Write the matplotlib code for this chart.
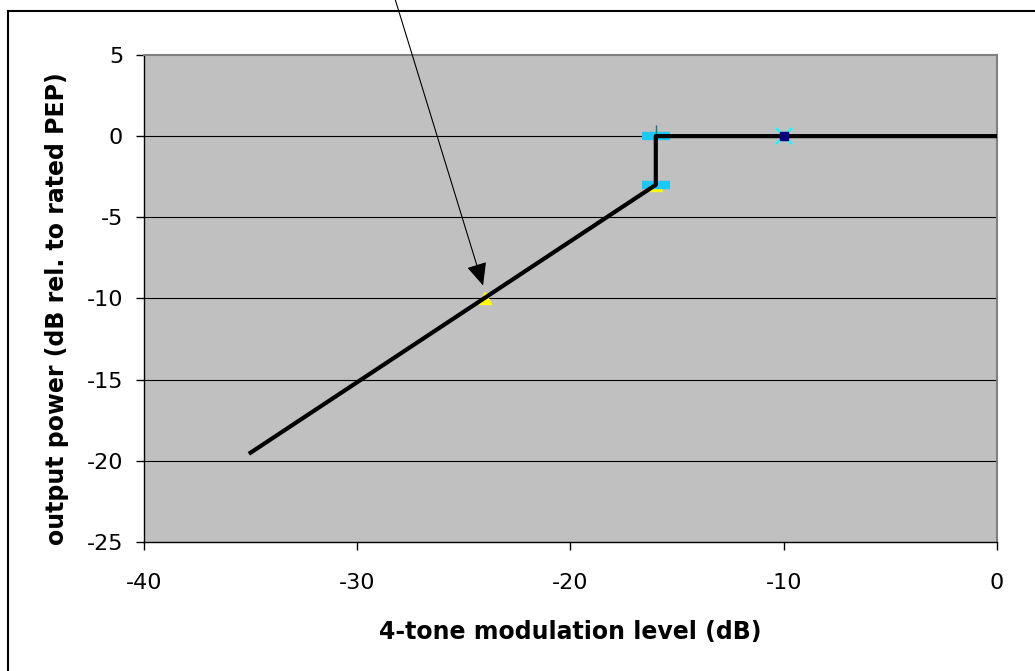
import matplotlib.pyplot as plt
from matplotlib.lines import Line2D

plt.rcParams['font.family'] = ['DejaVu Sans']
plt.rcParams['axes.unicode_minus'] = False

# output power curve (dB rel. to rated PEP) vs 4-tone modulation level (dB)
curve_x = [-35, -16, -16, 0]
curve_y = [-19.5, -3, 0, 0]

# measured points (Excel-style series markers)
dash_x = [-16, -16]
dash_y = [0, -3]
tri_x = [-24, -16]
tri_y = [-10, -3]
vbar_x = [-16]
vbar_y = [0]
cross_x = [-10]
cross_y = [0]
square_x = [-10]
square_y = [0]

arrow_tip = (-24.1, -9.2)

fig = plt.figure(figsize=(10.35, 6.71), dpi=100)
ax = fig.add_axes([0.1391, 0.1923, 0.8242, 0.7258])
ax.set_facecolor('#C0C0C0')

ax.set_xlim(-40, 0)
ax.set_ylim(-25, 5)
ax.set_xticks([-40, -30, -20, -10, 0])
ax.set_yticks([5, 0, -5, -10, -15, -20, -25])

for yv in [0, -5, -10, -15, -20]:
    ax.axhline(yv, color='black', lw=0.8, zorder=1)

ax.plot(dash_x, dash_y, linestyle='none', marker='_', markersize=20,
        markeredgewidth=6, color='#1CC8F5', zorder=3)
ax.plot(tri_x, tri_y, linestyle='none', marker='^', markersize=9,
        color='#FFFF00', zorder=2)
ax.plot(vbar_x, vbar_y, linestyle='none', marker='|', markersize=16,
        markeredgewidth=1, color='#008080', zorder=3)
ax.plot(cross_x, cross_y, linestyle='none', marker='x', markersize=11,
        markeredgewidth=1.5, color='#00FFFF', zorder=3)
ax.plot(curve_x, curve_y, color='black', lw=3, zorder=4)
ax.plot(square_x, square_y, linestyle='none', marker='s', markersize=6,
        color='#000080', zorder=5)

for side in ['top', 'right']:
    ax.spines[side].set_color('#808080')
    ax.spines[side].set_linewidth(1.5)
for side in ['left', 'bottom']:
    ax.spines[side].set_color('black')
    ax.spines[side].set_linewidth(1)

ax.tick_params(axis='both', direction='out', length=6, width=1, labelsize=16)
ax.tick_params(axis='y', pad=9)
ax.tick_params(axis='x', pad=16)

ax.set_xlabel('4-tone modulation level (dB)', fontsize=17, fontweight='bold', labelpad=20)
ax.set_ylabel('output power (dB rel. to rated PEP)', fontsize=17, fontweight='bold', labelpad=13)
ax.yaxis.label.set_y(0.48)

ax.annotate('', xy=arrow_tip, xycoords='data', xytext=(0.38, 1.01),
            textcoords='figure fraction', annotation_clip=False,
            arrowprops=dict(arrowstyle='-|>,head_length=1.0,head_width=0.45',
                            mutation_scale=14, lw=0.8, color='black',
                            shrinkA=0, shrinkB=0))

# outer chart frame (only left and top edges inside the crop)
fig.add_artist(Line2D([8 / 1035, 8 / 1035], [0, 1 - 11 / 671], color='black', lw=1.5))
fig.add_artist(Line2D([8 / 1035, 1], [1 - 11 / 671, 1 - 11 / 671], color='black', lw=1.5))

fig.savefig('out.png', dpi=100)
